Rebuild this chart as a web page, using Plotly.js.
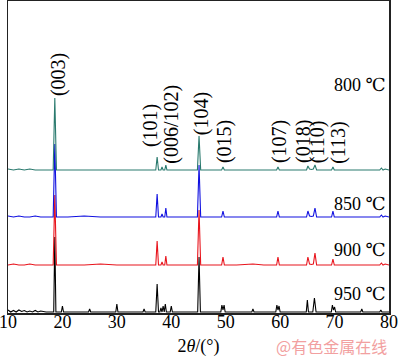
<!DOCTYPE html>
<html><head><meta charset="utf-8">
<script src="https://cdn.plot.ly/plotly-3.0.1.min.js"></script>
<style>html,body{margin:0;padding:0;background:#fff}#chart{width:400px;height:357px}</style>
</head><body><div id="chart"></div>
<script>
// 2θ grid shared by the 800/850/900 °C patterns
const twoTheta = [10,11,12,13,14,15,16,17,18.3,18.6,18.9,21,24,27,30,33,36,37.15,37.4,37.65,38.1,38.3,38.5,38.8,39.0,39.2,41,43,44.8,45.1,45.4,47,49.25,49.5,49.75,52,55,57,59.35,59.6,59.85,62,64.85,65.1,65.4,65.75,66.1,66.4,66.7,68,69.45,69.7,69.95,72,75,77,78.3,78.6,78.9,79.3,80];
const int800 = [1,0,1,0,1,0,0,0,0,72,0,0,0,0,0,0,0,0,13,0,0,3,0,0,5,0,0,0,0,34,0,0,0,3,0,0,0,0,0,3,0,0,0,4,1,0.5,1,5,0,0,0,3,0,0,0,0,0,2,0,1,0];
const int850 = [1,0,1,0,0,1,0,0,0,73,0,0,1,0,0,0,0,0,23,0,0,3,0,0,9,0,0,0,0,52,0,0,0,6,0,0,0,0,0,6,0,0,0,6,1,0.5,1,9,0,0,0,6,0,0,0,0,0,2,0,1,0];
const int900 = [0,1,0,0,1,0,0,0,0,70,0,0,0,1,0,0,0,0,24,0,0,3,0,0,9,0,0,0,0,55,0,0,0,8,0,0,1,0,0,8,0,0,0,8,1,0.5,1,12,0,0,0,6,0,0,0,0,0,2,0,1,0];
// 950 °C pattern (extra split / impurity peaks)
const twoTheta950 = [10,10.5,11,11.5,12,12.5,13,13.5,14,14.5,15,15.5,16,17,18.4,18.6,18.8,19.8,20.0,20.2,22,24.8,25.0,25.2,27,29.8,30.0,30.2,33,34.8,35.0,35.2,37.15,37.4,37.65,37.9,38.1,38.3,38.5,38.7,38.9,39.1,39.3,39.8,40.0,40.2,42,44.85,45.1,45.35,47,49.1,49.3,49.5,49.7,49.9,52,54.8,55.0,55.2,57,59.2,59.4,59.6,59.8,60.0,62,64.8,65.0,65.2,66.0,66.3,66.6,68,69.4,69.6,69.8,70.0,70.2,72,74.8,75.0,75.2,77,78.3,78.5,78.7,80];
const int950 = [2,0,1.5,0,2,0.5,1.5,0,1,0,1.5,0,1,0,0,75,0,0,6,0,0,0,3,0,0,0,8,0,0,0,3,0,0,28,0,0,4,0,6,0,8,0,0,0,6,0,0,0,55,0,0,0,7,2,7,0,0,0,3,0,0,0,7,2,6,0,0,0,12,0,0,14,0,0,0,7,2,5,0,0,0,3,0,0,0,2,0,0];

const seriesNames = ['950 ℃','900 ℃','850 ℃','800 ℃'];
const peakLabels = ['(003)','(101)','(006/102)','(104)','(015)','(107)','(018)','(110)','(113)'];
const xTickVals = [10,20,30,40,50,60,70,80];

// layout / styling
const offsets = [0,47,95,142];
const colors = ['#000000','#e8141c','#1010e0','#2a7a6e'];
const xs = [twoTheta950, twoTheta, twoTheta, twoTheta];
const ys = [int950, int900, int850, int800];
const peakLabelPos = [[19.2,237],[36.1,186],[39.9,188],[45.5,198],[49.7,170],[59.8,170],[64.2,170],[66.8,170],[70.6,170]];
const tempLabelY = [18,62,108,227];

const serif = "'Liberation Serif', 'Times New Roman', 'DejaVu Serif', serif";
const traces = ys.map((y,i)=>({
  x: xs[i], y: y.map(v=>v+offsets[i]), type:'scatter', mode:'lines',
  line:{color:colors[i], width:1.1}, name: seriesNames[i], hoverinfo:'skip'
}));

const annotations = [];
peakLabels.forEach((t,i)=>annotations.push({
  text:t, x:peakLabelPos[i][0], y:peakLabelPos[i][1], xref:'x', yref:'y',
  textangle:-90, showarrow:false, xanchor:'center', yanchor:'middle',
  font:{family:serif, size:20, color:'#000'}
}));
seriesNames.forEach((t,i)=>annotations.push({
  text:t, x:1, y:tempLabelY[i], xref:'paper', yref:'y', xanchor:'right', yanchor:'middle',
  xshift:-1, showarrow:false, font:{family:serif, size:18, color:'#000'}
}));
annotations.push({
  text:'@有色金属在线', x:1, y:-0.107, xref:'paper', yref:'paper', xanchor:'right', yanchor:'middle',
  showarrow:false, font:{family:"'Noto Sans CJK SC'", size:16, color:'#f2a0a0'}
});

const layout = {
  width:400, height:357,
  margin:{l:8, r:11, t:1, b:44},
  paper_bgcolor:'#fff', plot_bgcolor:'#fff',
  showlegend:false,
  xaxis:{
    range:[10,80], tickvals:xTickVals, ticks:'', showline:true, mirror:true,
    linecolor:'#222', linewidth:1.5, showgrid:false, zeroline:false,
    ticklabeloverflow:'allow', ticklabelstandoff:-8,
    tickfont:{family:serif, size:18, color:'#000'},
    title:{text:'2<i>θ</i>/(°)', font:{family:serif, size:18, color:'#000'}, standoff:8}
  },
  yaxis:{
    range:[-1,311], showticklabels:false, ticks:'', showline:true, mirror:true,
    linecolor:'#222', linewidth:1.5, showgrid:false, zeroline:false
  },
  annotations: annotations
};
Plotly.newPlot('chart', traces, layout, {displayModeBar:false, staticPlot:true});
</script></body></html>
